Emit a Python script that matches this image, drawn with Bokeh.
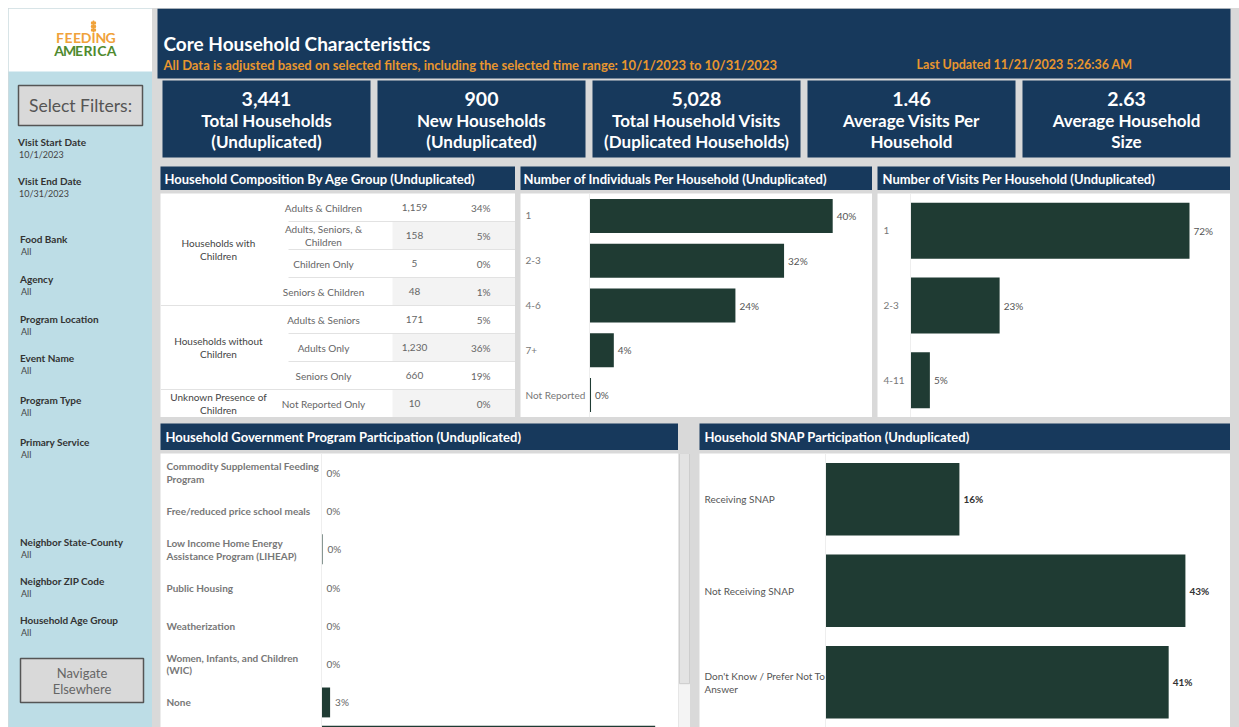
from bokeh.plotting import figure
from bokeh.models import ColumnDataSource, Range1d, Spacer, Span
from bokeh.layouts import row, column
from bokeh.core.properties import value
from bokeh.embed import file_html
from bokeh.resources import INLINE

# ---------------- data ----------------
kpi_values = ["3,441", "900", "5,028", "1.46", "2.63"]
kpi_labels = ["Total Households\n(Unduplicated)", "New Households\n(Unduplicated)",
              "Total Household Visits\n(Duplicated Households)", "Average Visits Per\nHousehold",
              "Average Household\nSize"]

comp_groups = ["Households with\nChildren", "Households without\nChildren", "Unknown Presence of\nChildren"]
comp_group_rows = [4, 3, 1]
comp_categories = ["Adults & Children", "Adults, Seniors, &\nChildren", "Children Only", "Seniors & Children",
                   "Adults & Seniors", "Adults Only", "Seniors Only", "Not Reported Only"]
comp_counts = [1159, 158, 5, 48, 171, 1230, 660, 10]
comp_pct = [34, 5, 0, 1, 5, 36, 19, 0]

ind_categories = ["1", "2-3", "4-6", "7+", "Not Reported"]
ind_pct = [40, 32, 24, 4, 0.25]
ind_labels = ["40%", "32%", "24%", "4%", "0%"]

visit_categories = ["1", "2-3", "4-11"]
visit_pct = [72, 23, 5]
visit_labels = ["72%", "23%", "5%"]

gov_categories = ["Commodity Supplemental Feeding\nProgram", "Free/reduced price school meals",
                  "Low Income Home Energy\nAssistance Program (LIHEAP)", "Public Housing", "Weatherization",
                  "Women, Infants, and Children\n(WIC)", "None", "Not Reported"]
gov_pct = [0, 0, 0.3, 0, 0, 0, 2.5, 97]
gov_labels = ["0%", "0%", "0%", "0%", "0%", "0%", "3%", "97%"]

snap_categories = ["Receiving SNAP", "Not Receiving SNAP", "Don't Know / Prefer Not To\nAnswer"]
snap_pct = [16, 43, 41]
snap_labels = ["16%", "43%", "41%"]

filter_names = ["Visit Start Date", "Visit End Date", "Food Bank", "Agency", "Program Location", "Event Name",
                "Program Type", "Primary Service", "Neighbor State-County", "Neighbor ZIP Code",
                "Household Age Group"]
filter_values = ["10/1/2023", "10/31/2023", "All", "All", "All", "All", "All", "All", "All", "All", "All"]

title_main = "Core Household Characteristics"
subtitle = "All Data is adjusted based on selected filters, including the selected time range: 10/1/2023 to 10/31/2023"
updated = "Last Updated 11/21/2023 5:26:36 AM"
logo_top = "FEEDING"
logo_bottom = "AMERICA"

# ---------------- style ----------------
FONT = value("Lato")
NAVY = "#17395c"
GAP = "#d9d9d9"
SIDE = "#bddde6"
ORANGE = "#e8962e"
LOGO_O = "#f0a23a"
LOGO_G = "#4f8a2e"
BAR = "#1f3b33"


def blank(w, h, xr, yr, bg):
    p = figure(width=w, height=h, x_range=xr, y_range=yr, toolbar_location=None, tools="",
               output_backend="svg", x_axis_location=None, y_axis_location=None, min_border=0,
               background_fill_color=bg, border_fill_color=bg, outline_line_color=None)
    p.grid.visible = False
    return p


def txt(p, x, y, text, size, color, align="left", bold=False, baseline="middle", lh=1.2, xo=0):
    p.text(x=[x], y=[y], text=[text], text_font=FONT, text_font_size=size, text_color=color,
           text_align=align, text_baseline=baseline, text_font_style="bold" if bold else "normal",
           text_line_height=lh, x_offset=xo)


# ---------------- sidebar ----------------
SH = 719
side = blank(144, SH, Range1d(0, 144), Range1d(SH, 0), SIDE)
side.quad(left=[0], right=[144], top=[0], bottom=[63], fill_color="white", line_color=None)
top_x = [51.5, 60, 68.5, 77.5, 85, 92.5, 102]
bot_x = [50.5, 61, 70.5, 79.5, 86, 93.5, 103]
side.text(x=top_x, y=29, text=list(logo_top), text_font=FONT, text_font_size="14px", text_font_style="bold",
          text_color=LOGO_O, text_align="center", text_baseline="middle")
side.text(x=bot_x, y=41.5, text=list(logo_bottom), text_font=FONT, text_font_size="14px", text_font_style="bold",
          text_color=LOGO_G, text_align="center", text_baseline="middle")
side.segment(x0=[85], y0=[12], x1=[85], y1=[24], line_color=LOGO_O, line_width=1.5)
side.ellipse(x=[83.6, 86.4, 83.6, 86.4, 83.6, 86.4], y=[14.5, 14.5, 18, 18, 21.5, 21.5], width=2.6, height=3.6,
             fill_color=LOGO_O, line_color=None)
side.quad(left=[10], right=[134], top=[77], bottom=[117], fill_color="#d9d9d9", line_color="#555555", line_width=1.5)
txt(side, 72, 97, "Select Filters:", "17.5px", "#555555", align="center")
fy = [133, 172, 230, 270, 310, 349, 391, 433, 533, 572, 611]
for i, (n, v) in enumerate(zip(filter_names, filter_values)):
    fx = 9.5 if i < 2 else 11.5
    txt(side, fx, fy[i], n, "10px", "#333333", bold=True)
    txt(side, fx + 1, fy[i] + 12.5, v, "9px", "#444444")
side.quad(left=[12], right=[135], top=[650], bottom=[694], fill_color="#d9d9d9", line_color="#555555", line_width=1.5)
txt(side, 73.5, 664, "Navigate", "13px", "#666666", align="center")
txt(side, 73.5, 680, "Elsewhere", "13px", "#666666", align="center")

# ---------------- header + KPI ----------------
MW = 1087
header = blank(MW, 154, Range1d(0, MW), Range1d(154, 0), GAP)
header.quad(left=[5], right=[1078], top=[0], bottom=[70], fill_color=NAVY, line_color=None)
txt(header, 11, 35, title_main, "19px", "white", bold=True)
txt(header, 11, 56, subtitle, "13px", ORANGE, bold=True)
txt(header, 872, 56, updated, "12.5px", ORANGE, align="center", bold=True)
k_left = [10 + 215 * i for i in range(len(kpi_values))]
header.quad(left=k_left, right=[l + 208 for l in k_left], top=72, bottom=149, fill_color=NAVY, line_color=None)
header.text(x=[l + 104 for l in k_left], y=90, text=kpi_values, text_font=FONT, text_font_size="19.5px",
            text_font_style="bold", text_color="white", text_align="center", text_baseline="middle")
header.text(x=[l + 104 for l in k_left], y=122, text=kpi_labels, text_font=FONT, text_font_size="17px",
            text_font_style="bold", text_color="white", text_align="center", text_baseline="middle",
            text_line_height=1.0)


def title_bar(title, w, h, xo=4):
    p = blank(w, h, Range1d(0, 1), Range1d(0, 1), NAVY)
    p.text(x=[0], y=[0.5], text=[title], x_offset=xo, text_font=FONT, text_font_size="13px",
           text_font_style="bold", text_color="white", text_baseline="middle")
    return p


def bar_chart(w, h, cats, vals, labels, px_per, offset, pitch, bar_h, cat_dx, val_dx,
              cat_color="#777777", cat_bold=False, val_color="#555555", val_bold=False, size="10px"):
    x0 = -offset / px_per
    x1 = (w - offset) / px_per
    p = blank(w, h, Range1d(x0, x1), Range1d(h / pitch, 0), "white")
    src = ColumnDataSource(dict(y=[i + 0.5 for i in range(len(cats))], cat=cats, val=vals, lab=labels))
    p.add_layout(Span(location=0, dimension="height", line_color="#eeeeee", line_width=1))
    p.hbar(y="y", left=0, right="val", height=bar_h, source=src, fill_color=BAR, line_color=None)
    p.text(x=x0, y="y", text="cat", source=src, x_offset=cat_dx, text_font=FONT, text_font_size=size,
           text_color=cat_color, text_font_style="bold" if cat_bold else "normal", text_baseline="middle",
           text_line_height=1.05)
    p.text(x="val", y="y", text="lab", source=src, x_offset=val_dx, text_font=FONT, text_font_size=size,
           text_color=val_color, text_font_style="bold" if val_bold else "normal", text_baseline="middle")
    return p


# ---------------- composition table ----------------
TW = 355
table = blank(TW, 224, Range1d(0, TW), Range1d(len(comp_categories), 0), "white")
n = len(comp_categories)
band = [i for i in range(n) if i % 2 == 1]
table.quad(left=232, right=TW, top=band, bottom=[b + 1 for b in band], fill_color="#f3f3f3", line_color=None)
bounds = []
acc = 0
starts = []
for g in comp_group_rows:
    starts.append(acc)
    acc += g
    bounds.append(acc)
sep_k = [k for k in range(1, n)]
table.segment(x0=[0 if k in bounds else 128 for k in sep_k], y0=sep_k, x1=TW, y1=sep_k,
              line_color="#e2e2e2", line_width=1)
tsrc = ColumnDataSource(dict(y=[i + 0.5 for i in range(n)], cat=comp_categories,
                             cnt=[f"{c:,}" for c in comp_counts], pct=[f"{v}%" for v in comp_pct]))
table.text(x=163, y="y", text="cat", source=tsrc, text_font=FONT, text_font_size="10px", text_color="#666666",
           text_align="center", text_baseline="middle", text_line_height=1.05)
table.text(x=254, y="y", text="cnt", source=tsrc, text_font=FONT, text_font_size="10px", text_color="#666666",
           text_align="center", text_baseline="middle")
table.text(x=330, y="y", text="pct", source=tsrc, text_font=FONT, text_font_size="10px", text_color="#666666",
           text_align="right", text_baseline="middle")
table.text(x=58, y=[s + g / 2 for s, g in zip(starts, comp_group_rows)], text=comp_groups, text_font=FONT,
           text_font_size="10px", text_color="#444444", text_align="center", text_baseline="middle",
           text_line_height=1.05)

# ---------------- charts ----------------
BH = 274
c2 = bar_chart(352, 224, ind_categories, ind_pct, ind_labels, 6.08, 69, 224 / 5, 0.76, 5, 4)
c3 = bar_chart(353, 224, visit_categories, visit_pct, visit_labels, 3.875, 33, 224 / 3, 0.75, 6, 4)
gov = bar_chart(518, BH, gov_categories, gov_pct, gov_labels, 3.44, 161, 38.3, 0.78, 6, 5,
                cat_color="#777777", cat_bold=True, val_color="#666666")
snap = bar_chart(531, BH, snap_categories, snap_pct, snap_labels, 8.37, 126, 91.5, 0.79, 5, 4,
                 cat_color="#555555", val_color="#333333", val_bold=True)

scroll = blank(12, BH, Range1d(0, 1), Range1d(1, 0), "#f4f4f4")
scroll.quad(left=[0.08], right=[0.92], top=[0.0], bottom=[0.84], fill_color="#e3e3e3", line_color="#cccccc")

t1 = title_bar("Household Composition By Age Group (Unduplicated)", 355, 24)
t2 = title_bar("Number of Individuals Per Household (Unduplicated)", 352, 24, 3)
t3 = title_bar("Number of Visits Per Household (Unduplicated)", 353, 24, 5)
tg = title_bar("Household Government Program Participation (Unduplicated)", 518, 27, 5)
ts = title_bar("Household SNAP Participation (Unduplicated)", 531, 27, 5)


def S(w, h):
    return Spacer(width=w, height=h)


mid = row(S(8, 258),
          column(S(355, 4), t1, S(355, 3), table, S(355, 3)),
          S(5, 258),
          column(S(352, 4), t2, S(352, 3), c2, S(352, 3)),
          S(5, 258),
          column(S(353, 4), t3, S(353, 3), c3, S(353, 3)),
          S(9, 258))
bot = row(S(8, 307),
          column(S(518, 3), tg, S(518, 3), gov),
          column(S(12, 33), scroll),
          S(9, 307),
          column(S(531, 3), ts, S(531, 3), snap),
          S(9, 307))
main = column(header, mid, bot)
dash = row(side, main, styles={"background-color": GAP})
page = column(S(1231, 8), row(S(8, SH), dash))

open("out.html", "w").write(file_html(page, INLINE))
